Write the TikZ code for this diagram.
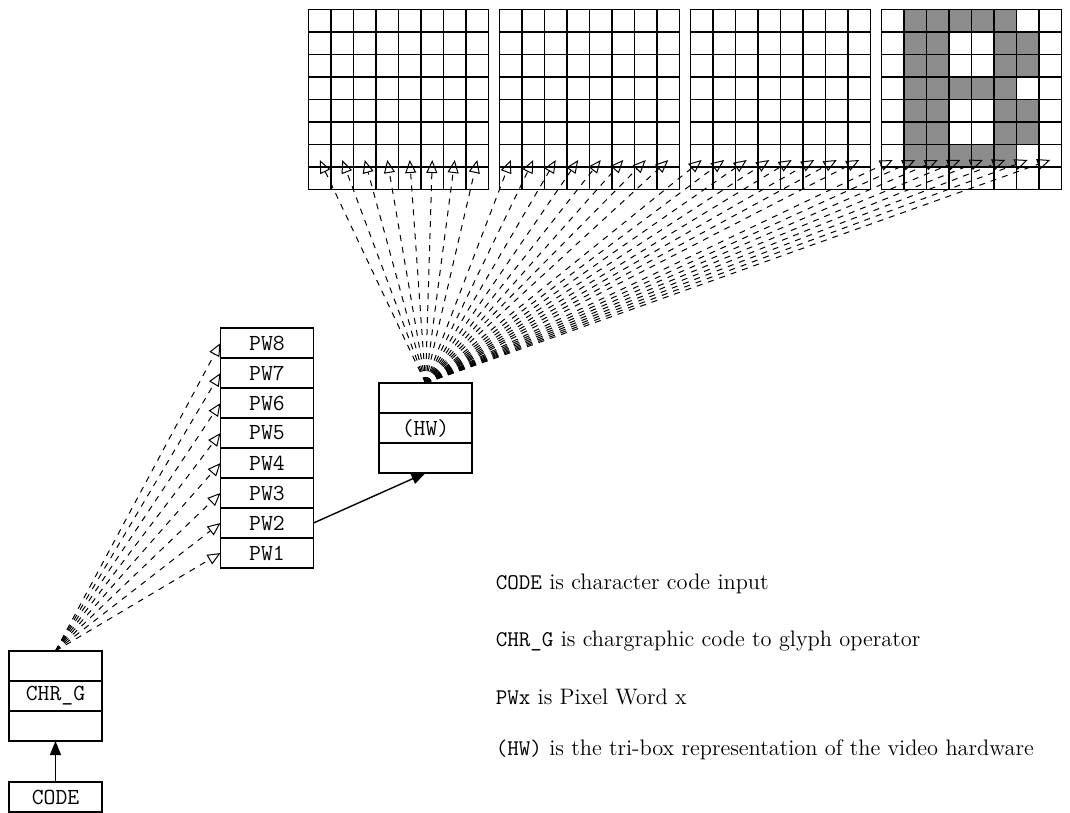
\documentclass[tikz,border=0pt]{standalone}
\usepackage{tikz}
\usetikzlibrary{arrows.meta,positioning}
\definecolor{pixgray}{RGB}{140,140,140}

\begin{document}
\begin{tikzpicture}[
  x=0.5pt, y=-0.5pt,
  line width=0.8pt,
  box/.style={draw, rectangle, outer sep=0pt, inner sep=0pt,
              minimum width=46.5pt, minimum height=15pt,
              font=\fontsize{11.5}{13}\ttfamily},
  wire/.style={dashed, line width=0.5pt, -{Triangle[open,length=6.5pt,width=5.5pt]}},
  feed/.style={line width=0.7pt, -{Triangle[length=7pt,width=5.5pt]}},
  legend/.style={anchor=west, inner sep=0pt, font=\fontsize{11.2}{13}\selectfont}
]
\useasboundingbox (0,0) rectangle (1070,813);

% pixel planes, the last one holds the glyph
\foreach \r/\cols in {1/{2,3,4,5,6}, 2/{2,3,6,7}, 3/{2,3,6,7}, 4/{2,3,4,5,6},
                      5/{2,3,6,7}, 6/{2,3,6,7}, 7/{2,3,4,5,6}}
  \foreach \c in \cols
    \fill[pixgray] ({881.5+(\c-1)*22.5},{9.5+(\r-1)*22.5}) rectangle ++(22.5,22.5);
\foreach \k in {0,...,3} {
  \foreach \i in {0,...,8} {
    \draw[line width=0.9pt] ({308.5+191*\k+\i*22.5},9.5) -- ++(0,180);
    \draw[line width=0.9pt] ({308.5+191*\k},{9.5+\i*22.5}) -- ++(180,0);
  }
  \foreach \c in {1,...,8}
    \coordinate (px\k-\c) at ({308.5+191*\k+(\c-0.5)*22.5},160);
}

\node[box] (pw8) at (267,343) {PW8};
\foreach \i [evaluate=\i as \j using int(\i+1)] in {7,6,...,1}
  \node[box, below=0pt of pw\j] (pw\i) {PW\i};

\node[box] (hwtop) at (425.5,398) {};
\node[box, below=0pt of hwtop] (hw) {(HW)};
\node[box, below=0pt of hw] (hwbot) {};

\node[box] (chrgtop) at (55.5,666) {};
\node[box, below=0pt of chrgtop] (chrg) {CHR\_G};
\node[box, below=0pt of chrg] (chrgbot) {};
\node[box, below=20.5pt of chrgbot] (code) {CODE};

\foreach \k in {0,...,3}
  \foreach \c in {1,...,8}
    \draw[wire] (hwtop.north) -- (px\k-\c);
\foreach \i in {1,...,8}
  \draw[wire] (chrgtop.north) -- (pw\i.west);
\draw[feed] (pw2.east) -- (hwbot.south);
\draw[feed] (code.north) -- (chrgbot.south);

\node[legend] (legcode) at (495,584) {\texttt{CODE} is character code input};
\node[legend] (legchrg) at (495,641) {\texttt{CHR\_G} is chargraphic code to glyph operator};
\node[legend] (legpw)   at (495,697) {\texttt{PWx} is Pixel Word x};
\node[legend] (leghw)   at (495,750) {\texttt{(HW)} is the tri-box representation of the video hardware};
\end{tikzpicture}
\end{document}
